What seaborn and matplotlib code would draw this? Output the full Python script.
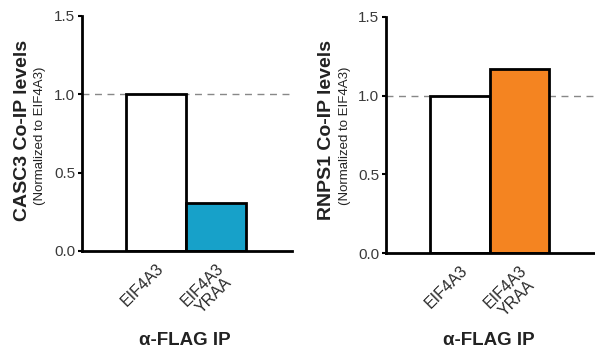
import matplotlib
matplotlib.use('Agg')
import matplotlib.pyplot as plt
import pandas as pd
import seaborn as sns

categories = ['EIF4A3', 'EIF4A3\nYRAA']
casc3_values = [1.0, 0.306]
rnps1_values = [1.0, 1.17]
casc3_colors = ['white', '#17a1c9']
rnps1_colors = ['white', '#f48421']

sns.set_style('ticks')
plt.rcParams['font.family'] = ['Liberation Sans', 'DejaVu Sans']

fig = plt.figure(figsize=(5.95, 3.52), dpi=100)
ax1 = fig.add_axes([0.138, 0.287, 0.353, 0.668])
ax2 = fig.add_axes([0.649, 0.281, 0.351, 0.671])


def panel(ax, values, colors, title, xc):
    df = pd.DataFrame({'cond': categories, 'val': values})
    sns.barplot(data=df, x='cond', y='val', hue='cond', palette=colors, saturation=1,
                width=1.0, edgecolor='black', linewidth=2, legend=False, ax=ax)
    ax.axhline(1.0, color='#888888', linestyle=(0, (5, 4)), linewidth=1, zorder=0.5)
    ax.set_xlim(-1.233, 2.267)
    ax.set_ylim(0, 1.5)
    ax.set_yticks([0, 0.5, 1.0, 1.5])
    ax.set_yticklabels(['0.0', '0.5', '1.0', '1.5'], fontsize=11, color='#3a3a3a')
    ax.tick_params(axis='y', length=3, width=1.5, color='black', pad=2)
    ax.tick_params(axis='x', length=0, pad=7)
    ax.set_xticks([0, 1])
    ax.set_xticklabels(categories, rotation=45, ha='right', rotation_mode='anchor',
                       fontsize=11.5, color='#2a2a2a', multialignment='center',
                       linespacing=1.05)
    for s in ['top', 'right']:
        ax.spines[s].set_visible(False)
    for s in ['left', 'bottom']:
        ax.spines[s].set_linewidth(2)
        ax.spines[s].set_color('black')
    ax.set_xlabel('')
    ax.set_ylabel('')
    fig.text(xc - 0.1, 0.63, title, rotation=90, fontsize=14, fontweight='bold',
             ha='center', va='center', color='#222222')
    fig.text(xc - 0.07, 0.615, '(Normalized to EIF4A3)', rotation=90, fontsize=9.5,
             ha='center', va='center', color='#222222')
    fig.text(xc + 0.172, 0.034, 'α-FLAG IP', fontsize=13.5, fontweight='bold',
             ha='center', va='center', color='#222222')


panel(ax1, casc3_values, casc3_colors, 'CASC3 Co-IP levels', 0.138)
panel(ax2, rnps1_values, rnps1_colors, 'RNPS1 Co-IP levels', 0.649)

fig.savefig('out.png', dpi=100)
